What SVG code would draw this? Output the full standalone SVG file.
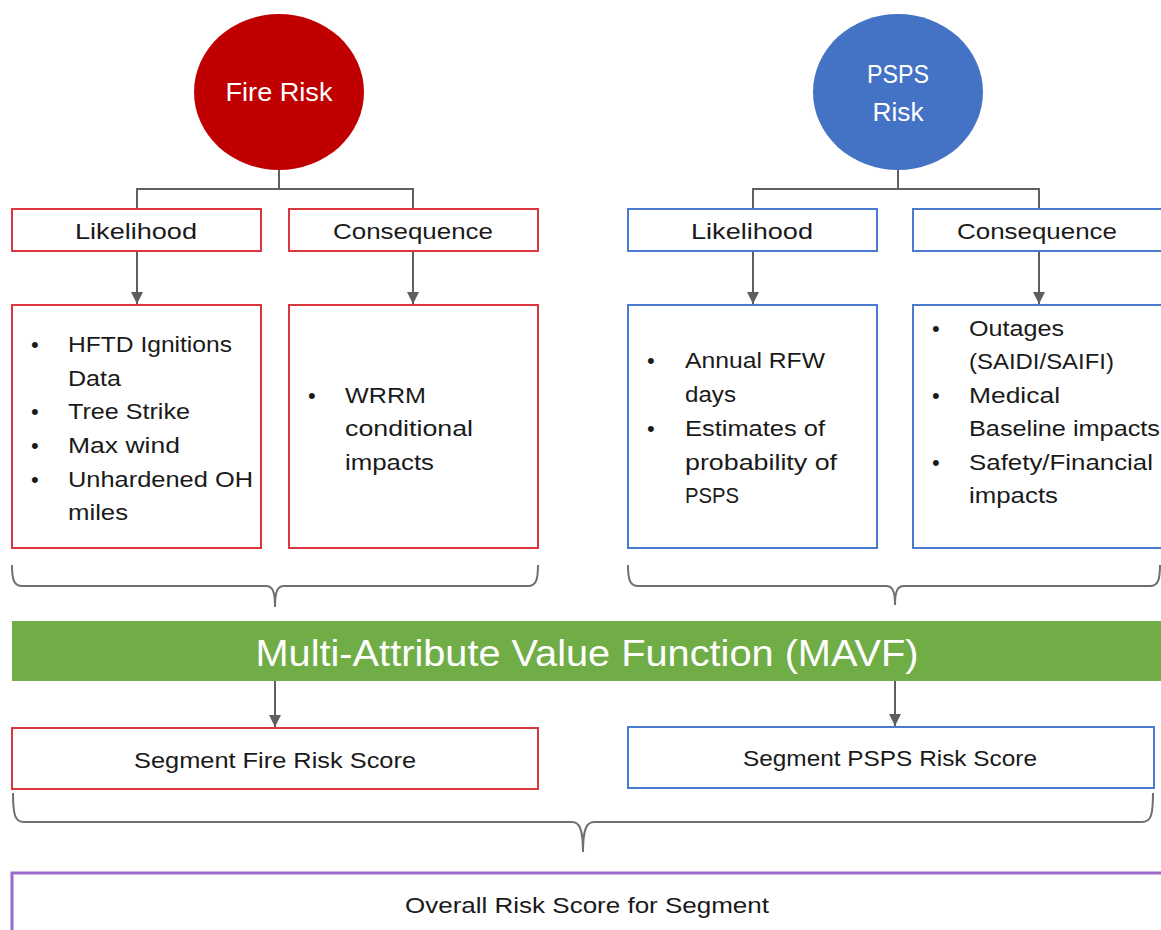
<svg xmlns="http://www.w3.org/2000/svg" width="1161" height="930" viewBox="0 0 1161 930">
<style>
text{font-family:"Liberation Sans",Arial,sans-serif;fill:#1a1a1a;}
.lbl{font-size:22px;text-anchor:middle;dominant-baseline:central;}
.li{font-size:22px;}
.wt{fill:#ffffff;}
.red{fill:#ffffff;stroke:#d9363e;stroke-width:2;}
.blue{fill:#ffffff;stroke:#4a7bd0;stroke-width:2;}
.purple{fill:#ffffff;stroke:#9b6bcc;stroke-width:3;}
.conn{fill:none;stroke:#5f5f5f;stroke-width:2;}
.brace{fill:none;stroke:#6f6f6f;stroke-width:2;}
</style>
<defs>
<marker id="ah" viewBox="0 0 10 10" refX="10" refY="5" markerWidth="6" markerHeight="6" markerUnits="strokeWidth" orient="auto">
<path d="M0,0 L10,5 L0,10 z" fill="#5f5f5f"/>
</marker>
</defs>
<rect width="1161" height="930" fill="#ffffff"/>

<g id="connectors">
<path class="conn" d="M279,170 V189 M137,209 V189 H413 V209"/>
<path class="conn" d="M898,170 V189 M753,209 V189 H1039 V209"/>
<path class="conn" d="M137,252 V304" marker-end="url(#ah)"/>
<path class="conn" d="M413,252 V304" marker-end="url(#ah)"/>
<path class="conn" d="M753,252 V304" marker-end="url(#ah)"/>
<path class="conn" d="M1039,252 V304" marker-end="url(#ah)"/>
<path class="brace" d="M12,565 C12,580 14,586 22,586 L266,586 C272,586 275,590 275,607 C275,590 278,586 284,586 L528,586 C536,586 538,580 538,565"/>
<path class="brace" d="M628,565 C628,580 630,586 638,586 L886,586 C892,586 895,590 895,605 C895,590 898,586 904,586 L1150,586 C1158,586 1160,580 1160,565"/>
<path class="conn" d="M275,681 V727" marker-end="url(#ah)"/>
<path class="conn" d="M895,681 V726" marker-end="url(#ah)"/>
<path class="brace" d="M13,793 C13,815 15,822 24,822 L572,822 C579,822 583,828 583,852 C583,828 587,822 594,822 L1142,822 C1151,822 1153,815 1153,793"/>
</g>

<g id="fire-risk">
<ellipse cx="279" cy="92" rx="85" ry="78" fill="#c00000"/>
<text class="lbl wt" x="279" y="92" font-size="26" textLength="107" lengthAdjust="spacingAndGlyphs" style="font-size:26px">Fire Risk</text>
</g>
<g id="psps-risk">
<ellipse cx="898" cy="92" rx="85" ry="78" fill="#4472c4"/>
<text class="lbl wt" x="898" y="74" textLength="62" lengthAdjust="spacingAndGlyphs" style="font-size:26px">PSPS</text>
<text class="lbl wt" x="898" y="112" textLength="51" lengthAdjust="spacingAndGlyphs" style="font-size:26px">Risk</text>
</g>

<g id="fire-likelihood">
<rect class="red" x="12" y="209" width="249" height="42"/>
<text class="lbl" x="136" y="231" textLength="122" lengthAdjust="spacingAndGlyphs">Likelihood</text>
</g>
<g id="fire-consequence">
<rect class="red" x="289" y="209" width="249" height="42"/>
<text class="lbl" x="413" y="231" textLength="160" lengthAdjust="spacingAndGlyphs">Consequence</text>
</g>
<g id="psps-likelihood">
<rect class="blue" x="628" y="209" width="249" height="42"/>
<text class="lbl" x="752" y="231" textLength="122" lengthAdjust="spacingAndGlyphs">Likelihood</text>
</g>
<g id="psps-consequence">
<rect class="blue" x="913" y="209" width="250" height="42"/>
<text class="lbl" x="1037" y="231" textLength="160" lengthAdjust="spacingAndGlyphs">Consequence</text>
</g>

<g id="fire-likelihood-details">
<rect class="red" x="12" y="305" width="249" height="243"/>
<text class="li" x="31" y="352">•</text>
<text class="li" x="68" y="352" textLength="164" lengthAdjust="spacingAndGlyphs">HFTD Ignitions</text>
<text class="li" x="68" y="386" textLength="53" lengthAdjust="spacingAndGlyphs">Data</text>
<text class="li" x="31" y="419">•</text>
<text class="li" x="68" y="419" textLength="122" lengthAdjust="spacingAndGlyphs">Tree Strike</text>
<text class="li" x="31" y="453">•</text>
<text class="li" x="68" y="453" textLength="112" lengthAdjust="spacingAndGlyphs">Max wind</text>
<text class="li" x="31" y="487">•</text>
<text class="li" x="68" y="487" textLength="185" lengthAdjust="spacingAndGlyphs">Unhardened OH</text>
<text class="li" x="68" y="520" textLength="60" lengthAdjust="spacingAndGlyphs">miles</text>
</g>
<g id="fire-consequence-details">
<rect class="red" x="289" y="305" width="249" height="243"/>
<text class="li" x="308" y="403">•</text>
<text class="li" x="345" y="403" textLength="81" lengthAdjust="spacingAndGlyphs">WRRM</text>
<text class="li" x="345" y="436" textLength="128" lengthAdjust="spacingAndGlyphs">conditional</text>
<text class="li" x="345" y="470" textLength="89" lengthAdjust="spacingAndGlyphs">impacts</text>
</g>
<g id="psps-likelihood-details">
<rect class="blue" x="628" y="305" width="249" height="243"/>
<text class="li" x="647" y="368">•</text>
<text class="li" x="685" y="368" textLength="140" lengthAdjust="spacingAndGlyphs">Annual RFW</text>
<text class="li" x="685" y="402" textLength="51" lengthAdjust="spacingAndGlyphs">days</text>
<text class="li" x="647" y="436">•</text>
<text class="li" x="685" y="436" textLength="140" lengthAdjust="spacingAndGlyphs">Estimates of</text>
<text class="li" x="685" y="470" textLength="152" lengthAdjust="spacingAndGlyphs">probability of</text>
<text class="li" x="685" y="503" textLength="54" lengthAdjust="spacingAndGlyphs">PSPS</text>
</g>
<g id="psps-consequence-details">
<rect class="blue" x="913" y="305" width="250" height="243"/>
<text class="li" x="932" y="336">•</text>
<text class="li" x="969" y="336" textLength="95" lengthAdjust="spacingAndGlyphs">Outages</text>
<text class="li" x="969" y="369" textLength="145" lengthAdjust="spacingAndGlyphs">(SAIDI/SAIFI)</text>
<text class="li" x="932" y="403">•</text>
<text class="li" x="969" y="403" textLength="91" lengthAdjust="spacingAndGlyphs">Medical</text>
<text class="li" x="969" y="436" textLength="191" lengthAdjust="spacingAndGlyphs">Baseline impacts</text>
<text class="li" x="932" y="470">•</text>
<text class="li" x="969" y="470" textLength="184" lengthAdjust="spacingAndGlyphs">Safety/Financial</text>
<text class="li" x="969" y="503" textLength="89" lengthAdjust="spacingAndGlyphs">impacts</text>
</g>

<g id="mavf">
<rect x="12" y="621" width="1152" height="60" fill="#70ad47"/>
<text class="lbl wt" x="587" y="653" textLength="663" lengthAdjust="spacingAndGlyphs" style="font-size:36px">Multi-Attribute Value Function (MAVF)</text>
</g>
<g id="segment-fire">
<rect class="red" x="12" y="728" width="526" height="61"/>
<text class="lbl" x="275" y="760" textLength="282" lengthAdjust="spacingAndGlyphs">Segment Fire Risk Score</text>
</g>
<g id="segment-psps">
<rect class="blue" x="628" y="727" width="526" height="61"/>
<text class="lbl" x="890" y="758" textLength="294" lengthAdjust="spacingAndGlyphs">Segment PSPS Risk Score</text>
</g>
<g id="overall">
<rect class="purple" x="12" y="873" width="1155" height="70"/>
<text class="lbl" x="587" y="905" textLength="364" lengthAdjust="spacingAndGlyphs">Overall Risk Score for Segment</text>
</g>
</svg>
